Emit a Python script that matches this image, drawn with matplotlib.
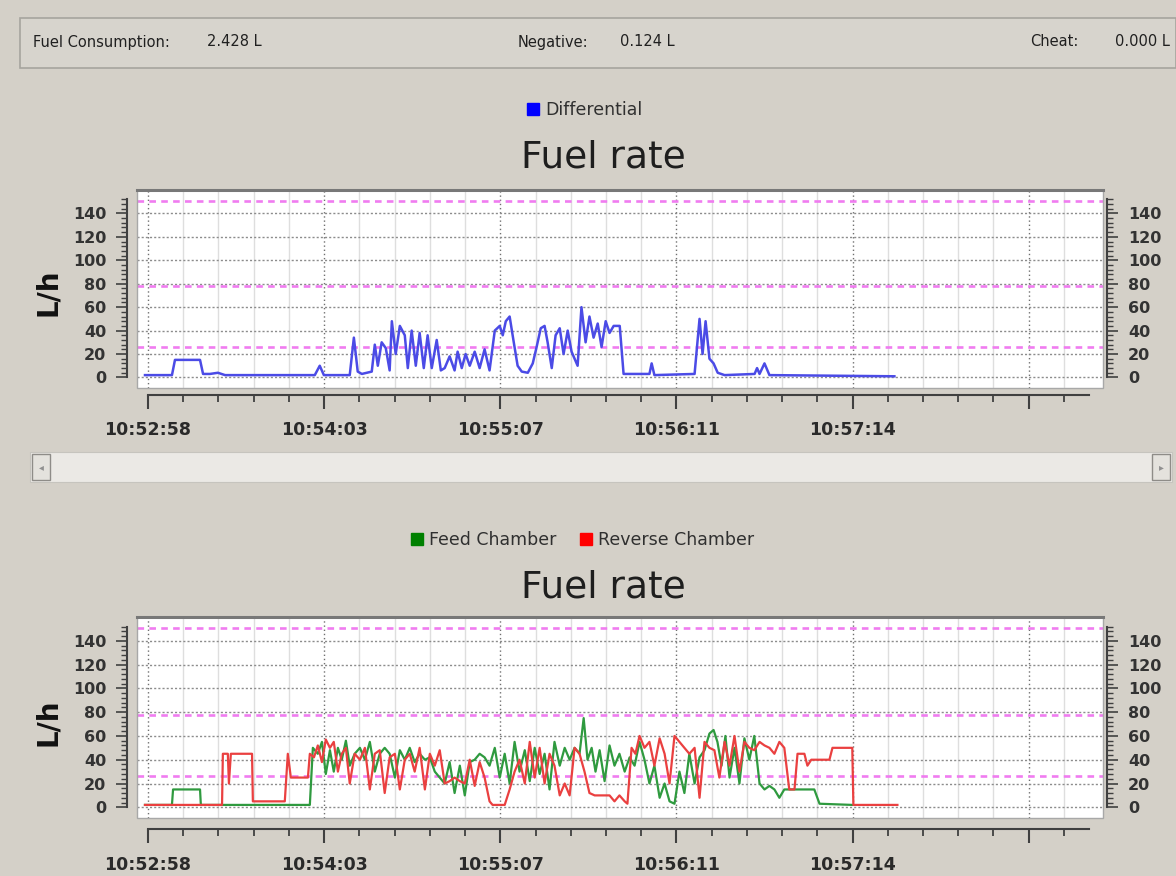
import numpy as np
import matplotlib
matplotlib.use("Agg")
import matplotlib.pyplot as plt
from matplotlib.patches import Rectangle
from matplotlib.lines import Line2D
from matplotlib.ticker import FixedLocator

W, H = 1176, 876
BG = "#d4d0c8"

# summary bar
summary = [("Fuel Consumption:", "2.428 L"), ("Negative:", "0.124 L"), ("Cheat:", "0.000 L")]

# time axis: seconds after 10:52:58
tick_secs = [0, 64, 128, 192, 256, 320]
tick_labels = ["10:52:58", "10:54:03", "10:55:07", "10:56:11", "10:57:14", ""]
limit_levels = [151, 78, 26]  # magenta reference lines, L/h

# top chart: differential rate
diff_t = [-1.1, 8.7, 9.8, 18.9, 20.0, 22.5, 25.4, 28.0, 60.6, 62.4,
          63.9, 73.3, 74.8, 76.2, 77.7, 81.3, 82.4, 83.5, 84.9, 86.4,
          87.8, 88.6, 90.0, 91.5, 93.3, 94.4, 95.8, 97.3, 98.7, 100.2,
          101.6, 103.1, 104.9, 106.4, 107.8, 109.6, 111.4, 112.5, 114.0, 115.4,
          116.9, 118.7, 120.5, 122.3, 124.1, 126.0, 127.8, 128.9, 130.0, 131.4,
          132.9, 134.3, 135.8, 138.0, 139.8, 141.2, 142.7, 144.1, 145.2, 146.7,
          148.1, 149.6, 151.0, 152.5, 153.9, 156.1, 157.5, 159.0, 160.4, 161.9,
          163.4, 164.8, 166.3, 167.7, 169.2, 171.4, 172.8, 182.2, 183.0, 184.0,
          198.6, 200.4, 201.5, 202.6, 204.0, 205.5, 207.0, 209.5, 220.4, 221.3,
          222.2, 224.0, 225.8, 271.2]
diff_v = [2, 2, 15, 15, 3, 3, 4, 2, 2, 10,
          2, 2, 34, 5, 3, 5, 28, 10, 30, 25,
          6, 48, 20, 44, 36, 8, 40, 10, 38, 8,
          36, 8, 32, 6, 8, 18, 6, 22, 8, 20,
          10, 22, 8, 24, 6, 40, 44, 36, 48, 52,
          30, 10, 5, 4, 12, 26, 42, 44, 30, 8,
          36, 42, 20, 40, 22, 10, 60, 30, 52, 34,
          46, 26, 48, 38, 44, 44, 3, 3, 12, 2,
          3, 50, 20, 48, 16, 12, 4, 2, 3, 8,
          3, 12, 2, 1]

# bottom chart: feed chamber
feed_t = [-1.1, 8.7, 9.1, 18.9, 19.2, 58.8, 59.9, 61.7, 63.2, 64.6,
          66.1, 67.5, 69.0, 70.4, 71.9, 73.3, 75.1, 77.0, 78.8, 80.6,
          82.4, 84.2, 86.0, 87.8, 89.7, 91.5, 93.3, 95.1, 96.9, 98.7,
          100.6, 102.4, 104.2, 106.0, 107.8, 109.6, 111.4, 113.3, 115.1, 116.9,
          118.7, 120.5, 122.3, 124.1, 126.0, 127.8, 129.6, 131.4, 133.2, 135.0,
          136.9, 138.7, 140.5, 142.3, 144.1, 145.9, 147.7, 149.6, 151.4, 153.2,
          155.0, 156.8, 158.3, 159.7, 161.2, 162.6, 164.1, 165.9, 167.7, 169.5,
          171.3, 173.2, 175.0, 176.8, 178.6, 180.4, 182.2, 184.0, 185.9, 187.7,
          189.5, 191.3, 193.1, 194.9, 196.7, 198.6, 200.4, 202.2, 204.0, 205.5,
          206.9, 208.4, 209.8, 211.3, 213.1, 214.9, 216.7, 218.5, 220.3, 222.2,
          224.0, 225.8, 227.6, 229.4, 231.2, 242.1, 244.0, 255.9]
feed_v = [2, 2, 15, 15, 2, 2, 50, 45, 55, 28,
          48, 30, 50, 40, 56, 35, 45, 50, 40, 55,
          30, 45, 50, 45, 25, 48, 40, 50, 38, 45,
          40, 42, 30, 25, 20, 38, 12, 35, 10, 38,
          40, 45, 42, 35, 50, 25, 45, 20, 55, 30,
          48, 22, 50, 28, 45, 15, 55, 35, 50, 40,
          50, 45, 75, 40, 50, 30, 48, 22, 52, 35,
          45, 30, 42, 35, 55, 40, 20, 35, 8, 20,
          5, 3, 30, 12, 45, 20, 42, 48, 62, 65,
          55, 35, 60, 25, 50, 20, 58, 40, 60, 20,
          15, 18, 15, 8, 15, 15, 3, 2]

# bottom chart: reverse chamber
rev_t = [-1.1, 26.9, 27.2, 29.0, 29.4, 30.1, 37.8, 38.1, 49.7, 50.8,
         51.9, 58.1, 58.8, 60.3, 61.7, 63.2, 64.6, 66.1, 67.5, 69.0,
         70.4, 71.9, 73.3, 75.1, 77.0, 78.8, 80.6, 82.4, 84.2, 86.0,
         87.8, 89.7, 91.5, 93.3, 95.1, 96.9, 98.7, 100.6, 102.4, 104.2,
         106.0, 107.8, 109.6, 111.4, 113.3, 115.1, 116.9, 118.7, 120.5, 122.3,
         124.1, 125.2, 129.6, 131.4, 133.2, 135.0, 136.9, 138.7, 140.5, 142.3,
         144.1, 145.9, 147.7, 149.6, 151.4, 153.2, 155.0, 156.8, 158.6, 160.4,
         162.3, 167.7, 169.5, 171.3, 173.2, 174.2, 175.7, 177.1, 178.6, 180.4,
         182.2, 184.0, 185.9, 187.7, 189.5, 191.3, 193.1, 194.9, 196.7, 198.6,
         200.4, 202.2, 204.0, 205.8, 207.6, 209.5, 211.3, 213.1, 214.9, 216.7,
         218.5, 220.3, 222.2, 224.0, 225.8, 227.6, 229.4, 231.2, 233.0, 234.9,
         236.0, 238.5, 239.6, 241.0, 247.6, 248.7, 255.9, 256.3, 272.3]
rev_v = [2, 2, 45, 45, 20, 45, 45, 5, 5, 45,
         25, 25, 45, 42, 52, 38, 57, 50, 55, 30,
         45, 50, 20, 45, 40, 50, 15, 45, 48, 12,
         42, 45, 15, 40, 45, 30, 50, 15, 45, 35,
         48, 20, 22, 25, 22, 20, 40, 18, 38, 25,
         5, 2, 2, 15, 30, 40, 20, 55, 25, 50,
         20, 45, 35, 10, 20, 10, 50, 45, 30, 12,
         10, 10, 5, 10, 5, 3, 50, 45, 60, 50,
         55, 35, 58, 45, 20, 60, 55, 50, 45, 50,
         8, 55, 50, 48, 25, 55, 35, 60, 30, 55,
         50, 48, 55, 52, 50, 45, 55, 50, 15, 15,
         45, 45, 35, 40, 40, 50, 50, 2, 2]


def fbox(x0, y0, x1, y1):  # pixel box -> figure fraction
    return [x0 / W, 1 - y1 / H, (x1 - x0) / W, (y1 - y0) / H]


def setup_axes(ax, bottom_off):
    ax.set_facecolor("white")
    ax.set_xlim(-4, 347)
    ax.set_ylim(-9, 160)
    ax.spines["top"].set_visible(False)
    ax.spines["left"].set_position(("outward", 7))
    ax.spines["right"].set_position(("outward", 3))
    ax.spines["bottom"].set_position(("outward", bottom_off))
    ax.spines["left"].set_bounds(0, 152)
    ax.spines["right"].set_bounds(0, 152)
    ax.spines["bottom"].set_bounds(0, 342)
    for s in ["left", "right", "bottom"]:
        ax.spines[s].set_color("#404040")
        ax.spines[s].set_linewidth(1.5)

    # plot box border
    ax.add_patch(Rectangle((0, 0), 1, 1, transform=ax.transAxes, fill=False,
                           ec="#a8a8a8", lw=1, clip_on=False, zorder=5))
    ax.plot([0, 1], [1, 1], transform=ax.transAxes, color="#787878", lw=2.2,
            clip_on=False, zorder=6)

    ax.set_xticks(tick_secs, tick_labels, fontsize=12.5, fontweight="bold", color="#2a2a2a")
    ax.xaxis.set_minor_locator(FixedLocator(np.arange(0, 340, 12.8)))
    ax.set_yticks(range(0, 141, 20), [str(v) for v in range(0, 141, 20)],
                  fontsize=11.5, fontweight="bold", color="#333333")
    ax.yaxis.set_minor_locator(FixedLocator(np.arange(0, 153, 4)))

    ax.tick_params(axis="x", which="major", length=10, width=1.5, color="#404040", pad=9)
    ax.tick_params(axis="x", which="minor", length=5, width=1.3, color="#404040")
    ax.tick_params(axis="y", which="both", left=True, right=True,
                   labelleft=True, labelright=True, color="#404040")
    ax.tick_params(axis="y", which="major", length=8, width=1.2, pad=7)
    ax.tick_params(axis="y", which="minor", length=4, width=1)

    ax.grid(True, which="major", axis="x", color="#707070", ls=(0, (1, 2)), lw=1)
    ax.grid(True, which="minor", axis="x", color="#dedede", ls="-", lw=1)
    ax.grid(True, which="major", axis="y", color="#8c8c8c", ls=(0, (1.5, 1.5)), lw=1)
    ax.set_axisbelow(True)

    for lvl in limit_levels:
        ax.axhline(lvl, color="#f07cf0", lw=1.9, ls=(0, (2.5, 2)), zorder=1.5)


fig = plt.figure(figsize=(W / 100, H / 100), dpi=100, facecolor=BG)

# summary panel at the top
fig.add_artist(Rectangle((20 / W, 1 - 68 / H), (W - 20) / W, 50 / H,
                         transform=fig.transFigure, fc="#d7d4cd", ec="#a6a49e", lw=1.2))
label_x = [33, 518, 1030]
value_x = [207, 620, 1170]
for (lab, val), lx, vx in zip(summary, label_x, value_x):
    fig.text(lx / W, 1 - 42 / H, lab, fontsize=10.5, va="center", color="#202020")
    fig.text(vx / W, 1 - 42 / H, val, fontsize=10.5, va="center", color="#202020",
             ha="right" if vx > 1100 else "left")

# top chart
ax1 = fig.add_axes(fbox(137, 190, 1103, 388))
setup_axes(ax1, 5)
ax1.plot(diff_t, diff_v, color="#4b4be6", lw=1.8, zorder=3)
fig.legend(handles=[Line2D([], [], marker="s", ls="", color="#0000ff", markersize=9)],
           labels=["Differential"], loc="center", bbox_to_anchor=(583 / W, 1 - 110 / H),
           frameon=False, fontsize=12.5, handletextpad=0.2, handlelength=1,
           labelcolor="#303030")
fig.text(603 / W, 1 - 158 / H, "Fuel rate", fontsize=27, ha="center", va="center", color="#1e1e1e")
fig.text(48 / W, 1 - 292 / H, "L/h", rotation=90, fontsize=20, fontweight="bold",
         ha="center", va="center", color="#111111")

# scroll bar between the charts
fig.add_artist(Rectangle((30 / W, 1 - 482 / H), 1142 / W, 30 / H, transform=fig.transFigure,
                         fc="#ebe9e5", ec="#c6c4be", lw=0.8))
for bx in [32, 1152]:
    fig.add_artist(Rectangle((bx / W, 1 - 480 / H), 18 / W, 26 / H, transform=fig.transFigure,
                             fc="#e4e2dd", ec="#8e8c88", lw=1))
fig.text(41 / W, 1 - 467 / H, "\u25c2", fontsize=7, color="#909090", ha="center", va="center")
fig.text(1161 / W, 1 - 467 / H, "\u25b8", fontsize=7, color="#909090", ha="center", va="center")

# bottom chart
ax2 = fig.add_axes(fbox(137, 617, 1103, 818))
setup_axes(ax2, 8)
ax2.plot(feed_t, feed_v, color="#2f9a3f", lw=1.6, zorder=3)
ax2.plot(rev_t, rev_v, color="#ea4040", lw=1.6, zorder=3)
fig.legend(handles=[Line2D([], [], marker="s", ls="", color="#008000", markersize=9),
                    Line2D([], [], marker="s", ls="", color="#ff0000", markersize=9)],
           labels=["Feed Chamber", "Reverse Chamber"], loc="center", ncol=2,
           bbox_to_anchor=(581 / W, 1 - 540 / H), frameon=False, fontsize=12.5,
           handletextpad=0.2, handlelength=1, columnspacing=1.2, labelcolor="#303030")
fig.text(603 / W, 1 - 588 / H, "Fuel rate", fontsize=27, ha="center", va="center", color="#1e1e1e")
fig.text(48 / W, 1 - 722 / H, "L/h", rotation=90, fontsize=20, fontweight="bold",
         ha="center", va="center", color="#111111")

fig.savefig("out.png", dpi=100, facecolor=BG)
